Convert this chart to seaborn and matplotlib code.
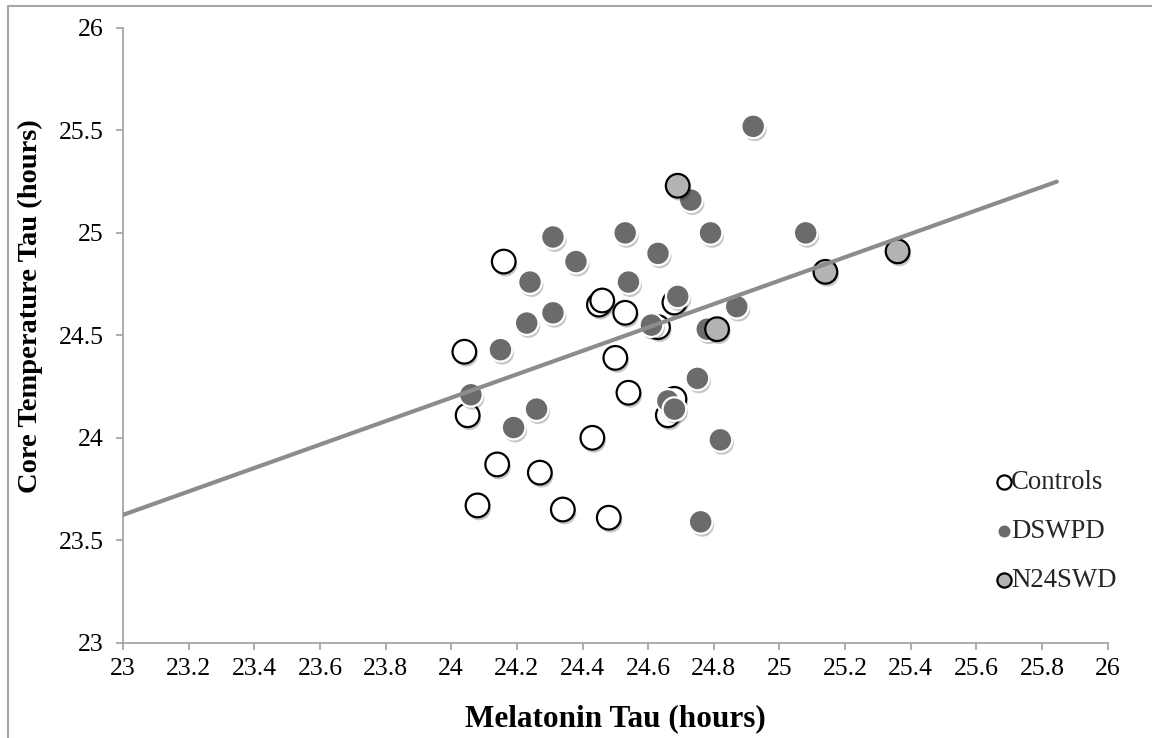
import matplotlib
matplotlib.use("Agg")
import matplotlib.pyplot as plt
import matplotlib.patheffects as pe
from matplotlib.lines import Line2D
import seaborn as sns
import pandas as pd

# Circadian period estimates (hours) per participant group
controls_melatonin = [24.04, 24.05, 24.16, 24.45, 24.46, 24.53, 24.68, 24.63, 24.50,
                      24.54, 24.68, 24.66, 24.43, 24.14, 24.27, 24.08, 24.34, 24.48]
controls_core = [24.42, 24.11, 24.86, 24.65, 24.67, 24.61, 24.66, 24.54, 24.39,
                 24.22, 24.19, 24.11, 24.00, 23.87, 23.83, 23.67, 23.65, 23.61]

dswpd_melatonin = [24.06, 24.15, 24.23, 24.31, 24.24, 24.54, 24.69, 24.61, 24.87,
                   24.78, 24.75, 24.66, 24.68, 24.26, 24.19, 24.82, 24.76, 24.92,
                   24.73, 24.31, 24.53, 24.79, 24.38, 24.63, 25.08]
dswpd_core = [24.21, 24.43, 24.56, 24.61, 24.76, 24.76, 24.69, 24.55, 24.64,
              24.53, 24.29, 24.18, 24.14, 24.14, 24.05, 23.99, 23.59, 25.52,
              25.16, 24.98, 25.00, 25.00, 24.86, 24.90, 25.00]

n24swd_melatonin = [24.69, 24.81, 25.14, 25.36]
n24swd_core = [25.23, 24.53, 24.81, 24.91]

# Linear trend across all participants
trend_x = [23.0, 25.845]
trend_y = [23.624, 25.25]

x_ticks = [23, 23.2, 23.4, 23.6, 23.8, 24, 24.2, 24.4, 24.6, 24.8, 25, 25.2, 25.4, 25.6, 25.8, 26]
x_tick_labels = ["23", "23.2", "23.4", "23.6", "23.8", "24", "24.2", "24.4", "24.6",
                 "24.8", "25", "25.2", "25.4", "25.6", "25.8", "26"]
y_ticks = [23, 23.5, 24, 24.5, 25, 25.5, 26]
y_tick_labels = ["23", "23.5", "24", "24.5", "25", "25.5", "26"]

sns.set_theme(style="white")
plt.rcParams["font.family"] = ["Liberation Serif", "DejaVu Serif"]

fig = plt.figure(figsize=(11.52, 7.38), dpi=100)
ax = fig.add_axes([0.1068, 0.1291, 0.8547, 0.833])

shadow = [pe.SimplePatchShadow(offset=(1.2, -2.2), shadow_rgbFace="black", alpha=0.22),
          pe.Normal()]

groups = [
    ("Controls", controls_melatonin, controls_core, "white", "black", 1.6),
    ("DSWPD", dswpd_melatonin, dswpd_core, "#6b6b6b", "white", 1.6),
    ("N24SWD", n24swd_melatonin, n24swd_core, "#b3b3b3", "black", 1.6),
]
for z, (name, xs, ys, fc, ec, lw) in enumerate(groups):
    df = pd.DataFrame({"melatonin": xs, "core": ys})
    sns.scatterplot(data=df, x="melatonin", y="core", ax=ax, s=290,
                    color=fc, edgecolor=ec, linewidth=lw, label=name,
                    zorder=3 + z)
    ax.collections[-1].set_path_effects(shadow)

sns.lineplot(x=trend_x, y=trend_y, ax=ax, color="#8c8c8c", linewidth=3.0,
             zorder=10, legend=False)

ax.set_xlim(23, 26)
ax.set_ylim(23, 26)
ax.set_xticks(x_ticks)
ax.set_xticklabels(x_tick_labels)
ax.set_yticks(y_ticks)
ax.set_yticklabels(y_tick_labels)

for side in ("top", "right"):
    ax.spines[side].set_visible(False)
for side in ("left", "bottom"):
    ax.spines[side].set_color("#a6a6a6")
    ax.spines[side].set_linewidth(1.3)

ax.tick_params(axis="both", which="major", direction="out", length=5, width=1.3,
               color="#a6a6a6", labelsize=18.5, labelcolor="black",
               bottom=True, left=True)
ax.tick_params(axis="x", pad=6)
ax.tick_params(axis="y", pad=9)

ax.set_xlabel("Melatonin Tau (hours)", fontsize=22.5, fontweight="bold", color="black")
ax.set_ylabel("Core Temperature Tau (hours)", fontsize=20.5, fontweight="bold",
              color="black")
ax.xaxis.set_label_coords(0.5, -0.1)
ax.yaxis.set_label_coords(-0.0812, 0.547)

handles, labels = ax.get_legend_handles_labels()
leg = ax.legend(handles, labels, loc="upper left", bbox_to_anchor=(0.868, 0.302),
                frameon=False, fontsize=19.3, markerscale=0.6,
                handletextpad=-0.25, labelspacing=0.88, handlelength=1.0,
                borderpad=0.0)
for h in leg.legend_handles:
    h.set_path_effects([])

# Outer chart-area border (left and top edges)
border_color = "#a6a6a6"
fig.add_artist(Line2D([8 / 1152, 8 / 1152], [0, 1 - 5.5 / 738], transform=fig.transFigure,
                      color=border_color, linewidth=1.5))
fig.add_artist(Line2D([8 / 1152, 1], [1 - 5.5 / 738, 1 - 5.5 / 738], transform=fig.transFigure,
                      color=border_color, linewidth=1.5))

fig.savefig("out.png", dpi=100)
